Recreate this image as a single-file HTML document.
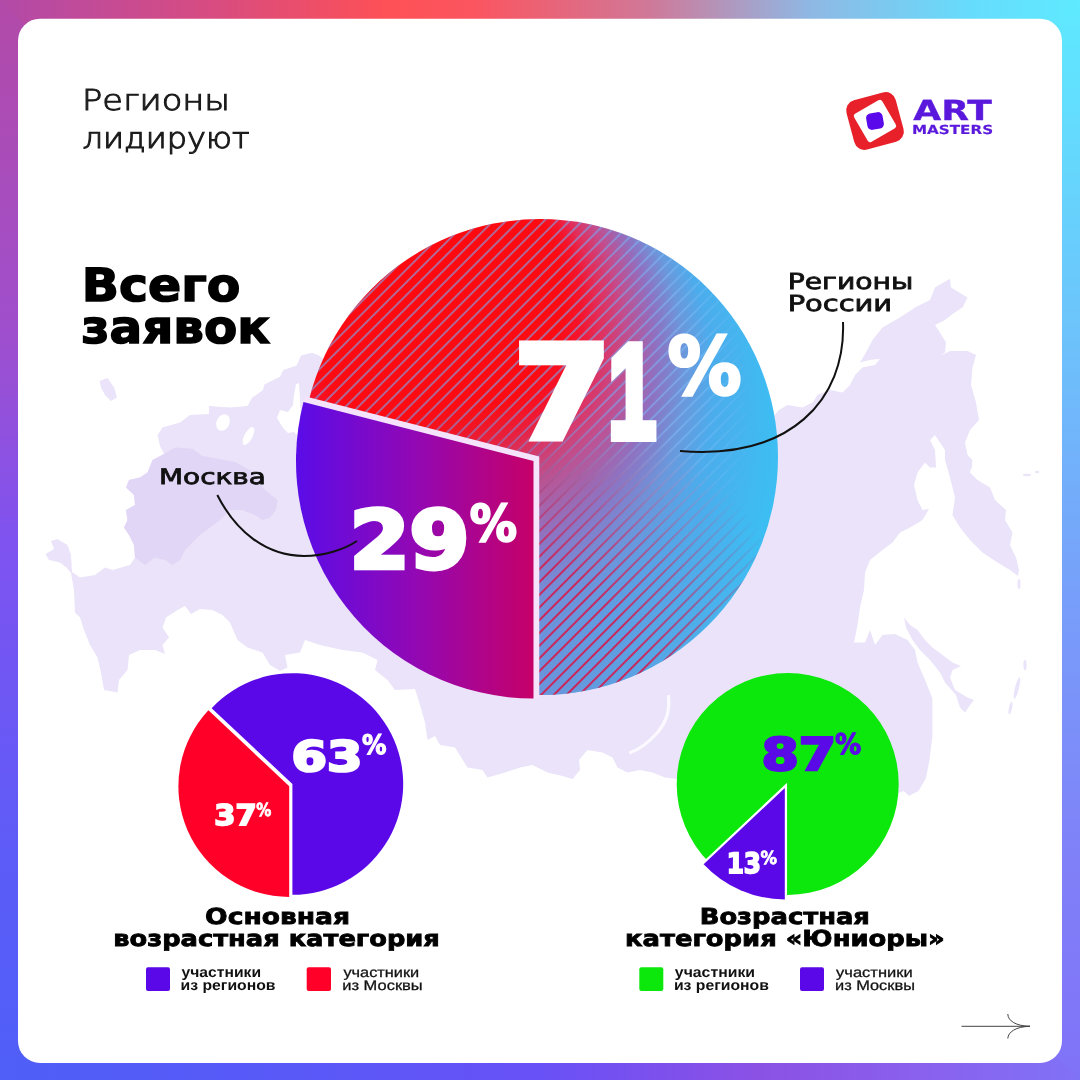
<!DOCTYPE html>
<html lang="ru"><head><meta charset="utf-8"><title>Регионы лидируют</title>
<style>html,body{margin:0;padding:0;background:#fff;}body{width:1080px;height:1080px;overflow:hidden;}svg{display:block;}</style>
</head><body>
<svg width="1080" height="1080" viewBox="0 0 1080 1080">

<defs>
<linearGradient id="fT" x1="0" x2="1" y1="0" y2="0">
 <stop offset="0" stop-color="#b24aa8"/><stop offset="0.2" stop-color="#d84c80"/><stop offset="0.36" stop-color="#fe5056"/><stop offset="0.44" stop-color="#fb5560"/>
 <stop offset="0.6" stop-color="#d07898"/><stop offset="0.75" stop-color="#8fb8e4"/><stop offset="0.9" stop-color="#66dcfc"/><stop offset="1" stop-color="#5eeaff"/>
</linearGradient>
<linearGradient id="fB" x1="0" x2="1" y1="0" y2="0">
 <stop offset="0" stop-color="#4f5ff8"/><stop offset="0.3" stop-color="#5a58f8"/><stop offset="0.5" stop-color="#6851f7"/><stop offset="0.62" stop-color="#7e50ec"/><stop offset="0.7" stop-color="#8b51e5"/>
 <stop offset="0.85" stop-color="#8a60ee"/><stop offset="1" stop-color="#8072f8"/>
</linearGradient>
<linearGradient id="fL" x1="0" x2="0" y1="0" y2="1">
 <stop offset="0" stop-color="#b24aa8"/><stop offset="0.3" stop-color="#a04fcc"/><stop offset="0.5" stop-color="#7f53f0"/><stop offset="0.8" stop-color="#5c5cf8"/><stop offset="1" stop-color="#4f5ff8"/>
</linearGradient>
<linearGradient id="fR" x1="0" x2="0" y1="0" y2="1">
 <stop offset="0" stop-color="#5eeaff"/><stop offset="0.3" stop-color="#6cc4fb"/><stop offset="0.55" stop-color="#779ffa"/><stop offset="0.8" stop-color="#8080f8"/><stop offset="1" stop-color="#8072f8"/>
</linearGradient>
</defs>
<rect x="0" y="0" width="40" height="1080" fill="url(#fL)"/>
<rect x="1040" y="0" width="40" height="1080" fill="url(#fR)"/>
<path d="M0,0 H1080 L1040,40 H40Z" fill="url(#fT)"/>
<path d="M0,1080 H1080 L1040,1040 H40Z" fill="url(#fB)"/>
<rect x="18" y="18.7" width="1044" height="1044.3" rx="22" fill="#fff"/>

<g>
<path d="M325.0,360.0 L319.0,355.6 L312.0,352.8 L301.0,355.6 L296.7,365.6 L283.3,370.0 L280.0,376.7 L264.4,384.4 L263.0,390.0 L252.0,397.8 L247.5,406.0 L230.0,407.5 L209.0,406.0 L209.0,414.0 L190.0,415.0 L180.0,422.5 L162.5,427.5 L157.5,435.0 L160.0,446.0 L164.0,454.0 L152.5,460.0 L147.5,472.5 L140.0,477.5 L129.0,480.0 L126.0,487.5 L134.0,495.0 L135.0,505.0 L126.0,510.0 L127.5,520.0 L124.0,527.5 L129.0,535.0 L134.0,545.0 L135.0,557.5 L130.0,565.0 L112.5,570.0 L105.0,567.5 L95.0,575.0 L80.0,577.5 L72.0,572.0 L71.0,555.0 L67.5,545.0 L57.5,539.0 L51.0,541.0 L54.0,549.0 L45.5,554.0 L49.0,560.0 L60.0,562.5 L67.0,568.0 L71.0,573.0 L74.0,590.0 L75.0,612.5 L80.0,617.5 L84.0,630.0 L90.0,645.0 L97.5,657.5 L101.0,672.5 L104.0,690.0 L117.5,692.5 L119.0,680.0 L127.5,670.0 L129.0,655.0 L140.0,650.0 L155.0,650.0 L165.0,654.0 L162.5,645.0 L169.0,637.5 L162.5,627.5 L166.0,617.5 L177.5,610.0 L185.0,606.0 L191.0,614.0 L200.0,609.0 L212.5,610.0 L222.5,615.0 L230.0,622.5 L237.5,640.0 L247.5,647.5 L262.5,652.5 L270.0,665.0 L280.0,671.0 L287.5,667.5 L285.0,655.0 L300.0,652.5 L305.0,640.0 L320.0,645.0 L342.5,650.0 L362.5,652.5 L377.5,660.0 L375.0,670.0 L387.5,680.0 L395.0,690.0 L415.0,689.0 L420.0,705.0 L425.0,722.5 L427.5,740.0 L435.0,736.0 L440.0,745.0 L455.0,747.5 L467.5,767.5 L482.5,770.0 L487.5,777.5 L505.0,772.5 L520.0,767.5 L532.5,765.0 L547.5,772.5 L562.5,776.0 L572.5,779.0 L580.0,770.0 L579.0,760.0 L587.5,750.0 L602.5,752.5 L612.5,757.5 L617.5,767.5 L627.5,772.5 L640.0,770.0 L652.5,772.5 L665.0,777.5 L677.5,779.0 L720.0,800.0 L800.0,820.0 L880.0,800.0 L903.7,791.0 L909.0,795.7 L918.5,791.0 L926.0,778.0 L929.6,759.6 L932.4,735.5 L932.4,698.5 L925.0,680.0 L917.5,662.5 L915.0,650.0 L907.5,640.0 L895.0,634.0 L882.5,635.0 L875.0,645.0 L870.0,630.0 L865.0,642.5 L854.0,642.5 L857.5,625.0 L860.0,607.5 L864.0,590.0 L865.0,572.5 L870.0,560.0 L882.5,550.0 L892.5,542.5 L900.0,532.5 L910.0,527.5 L922.5,520.0 L929.0,509.0 L922.5,510.0 L917.5,500.0 L914.0,485.0 L917.5,472.5 L925.0,462.5 L930.0,467.5 L936.0,467.5 L935.0,450.0 L930.0,440.0 L935.0,435.0 L945.0,450.0 L945.0,460.0 L950.0,477.5 L955.0,497.5 L952.5,515.0 L960.0,527.5 L970.0,540.0 L982.5,552.5 L997.5,562.5 L1010.0,570.0 L1018.0,576.0 L1019.0,570.0 L1016.0,557.5 L1010.0,545.0 L1012.5,532.5 L1005.0,520.0 L1006.0,510.0 L995.0,500.0 L990.0,487.5 L977.5,480.0 L970.0,472.5 L972.5,460.0 L967.5,455.0 L965.0,442.5 L970.0,430.0 L979.0,420.0 L976.0,402.5 L971.0,385.0 L972.5,367.5 L976.0,355.0 L967.5,351.0 L950.0,351.0 L940.0,356.0 L945.0,352.5 L946.0,342.5 L940.0,332.5 L935.0,325.0 L945.0,320.0 L952.5,314.0 L962.5,307.5 L967.5,297.5 L951.0,287.5 L950.0,278.8 L935.0,287.5 L930.0,300.0 L915.0,307.5 L900.0,317.5 L882.5,327.5 L872.5,340.0 L866.0,352.5 L860.0,362.5 L870.0,360.0 L880.0,358.8 L875.0,365.0 L862.5,367.5 L855.0,375.0 L850.0,385.0 L842.5,392.5 L830.0,390.0 L817.5,395.0 L812.5,402.5 L802.5,407.5 L787.5,405.0 L779.0,410.0 L770.0,420.0 L700.0,380.0 L540.0,340.0 L400.0,340.0Z" fill="#eae3f9"/>
<path d="M99.5,381.0 L107.5,378.0 L114.0,387.5 L117.0,397.5 L111.0,401.0 L105.0,395.0 L101.0,387.5Z" fill="#eae3f9"/>
<path d="M904.0,617.5 L910.0,625.0 L917.5,630.0 L925.0,640.0 L932.5,647.5 L942.5,655.0 L952.5,662.5 L961.0,666.0 L952.5,670.0 L950.0,677.5 L955.0,690.0 L967.5,697.5 L974.0,700.0 L970.0,705.0 L965.0,712.5 L960.0,707.5 L956.0,695.0 L945.0,682.5 L940.0,672.5 L930.0,660.0 L920.0,650.0 L912.5,640.0 L906.0,627.5Z" fill="#eae3f9"/>
<path d="M164.0,454.0 L175.0,447.5 L192.5,448.8 L202.5,456.0 L217.5,458.8 L235.0,462.0 L250.0,470.0 L258.0,480.0 L265.0,490.0 L277.5,500.0 L276.0,510.0 L270.0,517.5 L262.5,520.0 L255.0,515.0 L242.5,510.0 L230.0,510.0 L220.0,520.0 L210.0,527.5 L200.0,535.0 L192.5,542.5 L185.0,550.0 L180.0,560.0 L172.5,565.0 L165.0,560.0 L155.0,557.5 L145.0,565.0 L135.0,557.5 L134.0,545.0 L129.0,535.0 L124.0,527.5 L127.5,520.0 L126.0,510.0 L135.0,505.0 L134.0,495.0 L126.0,487.5 L129.0,480.0 L140.0,477.5 L147.5,472.5 L152.5,460.0Z" fill="#e1d6f5"/>
<ellipse cx="223" cy="422.5" rx="6.5" ry="8.5" fill="#fff" transform="rotate(25 223 422.5)"/>
<ellipse cx="248.5" cy="436" rx="4" ry="10" fill="#fff" transform="rotate(28 248.5 436)"/>
<path d="M296,384 L299,383 L300,400 L301,420 L299,437 L294,432 L288,433 L283,428 L277,418 L280,410 L288,412 L293,405 L294,395Z" fill="#fff"/>
<path d="M668.5,696.5 C670,712 666,722 657.5,732.5 C650,741 640,749 630.5,752.5" fill="none" stroke="#fbf8ff" stroke-width="3.4" stroke-linecap="round"/>
<g fill="#eae3f9">
<ellipse cx="1025" cy="665" rx="1.6" ry="5"/><ellipse cx="1017" cy="688" rx="2" ry="11" transform="rotate(14 1017 688)"/>
<ellipse cx="1010.5" cy="708" rx="1.6" ry="6.5" transform="rotate(12 1010.5 708)"/>
<ellipse cx="1019" cy="584" rx="1.5" ry="5"/>
<ellipse cx="971" cy="465" rx="1.2" ry="4"/><ellipse cx="1027" cy="475" rx="4" ry="1.2"/><ellipse cx="1037" cy="472" rx="2.5" ry="1"/>
</g>
</g>

<defs>
<radialGradient id="gA" gradientUnits="userSpaceOnUse" cx="417.3" cy="441.6" r="391" fx="435.9" fy="220.9">
 <stop offset="0" stop-color="#fd0a10"/><stop offset="0.34" stop-color="#fc0b12"/><stop offset="0.39" stop-color="#f5142c"/><stop offset="0.435" stop-color="#e42c58"/><stop offset="0.505" stop-color="#c44c8c"/>
 <stop offset="0.59" stop-color="#9070c0"/><stop offset="0.67" stop-color="#6a98dc"/><stop offset="0.745" stop-color="#4cacec"/><stop offset="0.9" stop-color="#3ebcf2"/><stop offset="1" stop-color="#38c4f5"/>
</radialGradient>
<radialGradient id="gL1" gradientUnits="userSpaceOnUse" cx="417.3" cy="441.6" r="391" fx="435.9" fy="220.9">
 <stop offset="0" stop-color="#80a8f0" stop-opacity="0.62"/><stop offset="0.5" stop-color="#78a8f0" stop-opacity="0.62"/><stop offset="0.66" stop-color="#80bcf8" stop-opacity="0.55"/><stop offset="0.76" stop-color="#84c4fa" stop-opacity="0.3"/><stop offset="0.86" stop-color="#84c4fa" stop-opacity="0"/>
</radialGradient>
<radialGradient id="gL2" gradientUnits="userSpaceOnUse" cx="480" cy="720" r="340">
 <stop offset="0" stop-color="#d41c4c"/><stop offset="0.5" stop-color="#cc2458"/><stop offset="0.7" stop-color="#c02c64" stop-opacity="0.65"/><stop offset="0.85" stop-color="#b83870" stop-opacity="0.3"/><stop offset="1" stop-color="#b04080" stop-opacity="0"/>
</radialGradient>
<radialGradient id="gO" gradientUnits="userSpaceOnUse" cx="500" cy="700" r="300">
 <stop offset="0" stop-color="#7888d4" stop-opacity="0.85"/><stop offset="1" stop-color="#7888d4" stop-opacity="0"/>
</radialGradient>
<pattern id="stripes" patternUnits="userSpaceOnUse" width="9" height="9" patternTransform="rotate(-45)">
 <rect x="0" y="0" width="9" height="1.9" fill="#fff"/>
</pattern>
<mask id="mS"><rect x="280" y="200" width="520" height="520" fill="url(#stripes)"/></mask>
<linearGradient id="gB" gradientUnits="userSpaceOnUse" x1="296" y1="0" x2="534" y2="0">
 <stop offset="0" stop-color="#5a0ce8"/><stop offset="0.5" stop-color="#9208b4"/><stop offset="1" stop-color="#c60068"/>
</linearGradient>
<clipPath id="cA"><circle cx="540" cy="457" r="238"/></clipPath>
</defs>
<circle cx="540" cy="457" r="238" fill="url(#gA)"/>
<circle cx="540" cy="457" r="238" fill="url(#gO)"/>
<g clip-path="url(#cA)"><g mask="url(#mS)"><rect x="280" y="200" width="520" height="520" fill="url(#gL1)"/><rect x="280" y="200" width="520" height="520" fill="url(#gL2)"/></g></g>
<path d="M533.50,698.50 L533.50,461.00 L303.46,401.94" fill="none" stroke="#f4e3fb" stroke-width="11.5" stroke-linejoin="miter" stroke-linecap="butt"/>
<path d="M533.50,461.00 L533.50,698.50 A237.5,237.5 0 0 1 303.46,401.94Z" fill="url(#gB)"/>


<path d="M292.40,784.00 L211.63,708.15 A110.8,110.8 0 1 1 292.40,894.80Z" fill="#5a08e8"/>
<path d="M289.20,786.20 L289.20,897.00 A110.8,110.8 0 0 1 208.43,710.35Z" fill="#ff0028" stroke="#fff" stroke-width="4" paint-order="stroke"/>


<circle cx="787.7" cy="784" r="111" fill="#0ce80c"/>
<path d="M784.80,788.00 L784.80,899.40 A111.4,111.4 0 0 1 703.59,864.26Z" fill="#5a08e8" stroke="#fff" stroke-width="4.5" paint-order="stroke"/>


<path d="M217.3,495 C235,530 265,556 304,556 C325,556 345,549 357,541" fill="none" stroke="#111" stroke-width="2"/>
<path d="M843,322 C846,400 790,460 680,451" fill="none" stroke="#111" stroke-width="2"/>
<g fill="none" stroke="#444" stroke-width="1">
<path d="M961.5,1026.3 H1030"/>
<path d="M1007.8,1014 C1008,1021 1016,1026 1030,1026.3 C1016,1026.6 1008,1032 1007.8,1038.5"/>
</g>


<rect x="146" y="967.3" width="24" height="23.7" rx="2" fill="#5a08e8"/>
<rect x="306.7" y="967.3" width="24.3" height="23.7" rx="2" fill="#ff0028"/>
<rect x="639.3" y="967.3" width="24" height="23.7" rx="2" fill="#0ce80c"/>
<rect x="800" y="967.3" width="24" height="23.7" rx="2" fill="#5a08e8"/>


<g transform="translate(875 121)">
<rect x="-25.5" y="-25.5" width="51" height="51" rx="10.5" fill="#e8202a" transform="rotate(-15)"/>
<rect x="-16.2" y="-16.2" width="32.4" height="32.4" rx="3" fill="#fff" transform="rotate(-30)"/>
<rect x="-8.3" y="-8.3" width="16.6" height="16.6" rx="4.5" fill="#5a0aea" transform="rotate(-10)"/>
</g>

<g style="white-space:pre" text-rendering="geometricPrecision">
<text transform="translate(81.90 110.45) scale(1.1707 1)" font-family="'DejaVu Sans', 'Liberation Sans', sans-serif" font-weight="200" font-size="28.77" fill="#1b1b1b" stroke="#1b1b1b" stroke-width="1.01" stroke-linejoin="miter">Регионы</text>
<text transform="translate(82.56 148.45) scale(1.1118 1)" font-family="'DejaVu Sans', 'Liberation Sans', sans-serif" font-weight="200" font-size="28.77" fill="#1b1b1b" stroke="#1b1b1b" stroke-width="1.04" stroke-linejoin="miter">лидируют</text>
<text transform="translate(81.68 301.05) scale(1.0726 1)" font-family="'DejaVu Sans', 'Liberation Sans', sans-serif" font-weight="700" font-size="45.62" fill="#000" stroke="#000" stroke-width="1.45" stroke-linejoin="miter">Всего</text>
<text transform="translate(81.33 342.55) scale(1.0618 1)" font-family="'DejaVu Sans', 'Liberation Sans', sans-serif" font-weight="700" font-size="45.62" fill="#000" stroke="#000" stroke-width="1.46" stroke-linejoin="miter">заявок</text>
<text><tspan x="513.44" y="438.40" textLength="97.67" lengthAdjust="spacingAndGlyphs" font-family="'DejaVu Sans', 'Liberation Sans', sans-serif" font-weight="700" font-size="128.90" fill="#fff" stroke="#fff" stroke-width="7.00" stroke-linejoin="miter">7</tspan><tspan x="608.01" y="437.90" textLength="48.25" lengthAdjust="spacingAndGlyphs" font-family="'Liberation Sans', 'Liberation Sans', sans-serif" font-weight="700" font-size="134.93" fill="#fff" stroke="#fff" stroke-width="8.00" stroke-linejoin="miter">1</tspan><tspan x="667.54" y="393.50" textLength="74.02" lengthAdjust="spacingAndGlyphs" font-family="'DejaVu Sans', 'Liberation Sans', sans-serif" font-weight="700" font-size="79.37" fill="#fff" stroke="#fff" stroke-width="3.00" stroke-linejoin="miter">%</tspan></text>
<text><tspan x="349.67" y="568.35" textLength="119.66" lengthAdjust="spacingAndGlyphs" font-family="'DejaVu Sans', 'Liberation Sans', sans-serif" font-weight="700" font-size="80.14" fill="#fff" stroke="#fff" stroke-width="4.50" stroke-linejoin="miter">29</tspan><tspan x="469.63" y="540.50" textLength="47.28" lengthAdjust="spacingAndGlyphs" font-family="'DejaVu Sans', 'Liberation Sans', sans-serif" font-weight="700" font-size="50.45" fill="#fff" stroke="#fff" stroke-width="2.00" stroke-linejoin="miter">%</tspan></text>
<text><tspan x="291.62" y="771.35" textLength="70.92" lengthAdjust="spacingAndGlyphs" font-family="'DejaVu Sans', 'Liberation Sans', sans-serif" font-weight="700" font-size="41.78" fill="#fff" stroke="#fff" stroke-width="2.50" stroke-linejoin="miter">63</tspan><tspan x="361.99" y="754.20" textLength="24.50" lengthAdjust="spacingAndGlyphs" font-family="'DejaVu Sans', 'Liberation Sans', sans-serif" font-weight="700" font-size="26.91" fill="#fff" stroke="#fff" stroke-width="1.20" stroke-linejoin="miter">%</tspan></text>
<text><tspan x="214.27" y="825.10" textLength="42.31" lengthAdjust="spacingAndGlyphs" font-family="'DejaVu Sans', 'Liberation Sans', sans-serif" font-weight="700" font-size="28.49" fill="#fff" stroke="#fff" stroke-width="1.80" stroke-linejoin="miter">37</tspan><tspan x="256.20" y="815.90" textLength="15.08" lengthAdjust="spacingAndGlyphs" font-family="'DejaVu Sans', 'Liberation Sans', sans-serif" font-weight="700" font-size="18.03" fill="#fff" stroke="#fff" stroke-width="0.80" stroke-linejoin="miter">%</tspan></text>
<text><tspan x="761.53" y="770.35" textLength="74.72" lengthAdjust="spacingAndGlyphs" font-family="'DejaVu Sans', 'Liberation Sans', sans-serif" font-weight="700" font-size="44.79" fill="#5a0ae6" stroke="#5a0ae6" stroke-width="2.50" stroke-linejoin="miter">87</tspan><tspan x="835.03" y="754.20" textLength="26.21" lengthAdjust="spacingAndGlyphs" font-family="'DejaVu Sans', 'Liberation Sans', sans-serif" font-weight="700" font-size="28.52" fill="#5a0ae6" stroke="#5a0ae6" stroke-width="1.20" stroke-linejoin="miter">%</tspan></text>
<text><tspan x="726.70" y="872.70" textLength="34.33" lengthAdjust="spacingAndGlyphs" font-family="'DejaVu Sans', 'Liberation Sans', sans-serif" font-weight="700" font-size="27.95" fill="#fff" stroke="#fff" stroke-width="1.80" stroke-linejoin="miter">13</tspan><tspan x="760.45" y="864.00" textLength="16.47" lengthAdjust="spacingAndGlyphs" font-family="'DejaVu Sans', 'Liberation Sans', sans-serif" font-weight="700" font-size="18.03" fill="#fff" stroke="#fff" stroke-width="0.80" stroke-linejoin="miter">%</tspan></text>
<text transform="translate(159.05 484.05) scale(1.3049 1)" font-family="'DejaVu Sans', 'Liberation Sans', sans-serif" font-weight="400" font-size="21.37" fill="#111" stroke="#111" stroke-width="0.78" stroke-linejoin="miter">Москва</text>
<text transform="translate(787.72 289.05) scale(1.2805 1)" font-family="'DejaVu Sans', 'Liberation Sans', sans-serif" font-weight="400" font-size="22.05" fill="#111" stroke="#111" stroke-width="0.79" stroke-linejoin="miter">Регионы</text>
<text transform="translate(787.65 310.85) scale(1.3113 1)" font-family="'DejaVu Sans', 'Liberation Sans', sans-serif" font-weight="400" font-size="22.05" fill="#111" stroke="#111" stroke-width="0.78" stroke-linejoin="miter">России</text>
<text transform="translate(205.12 923.85) scale(1.2029 1)" font-family="'DejaVu Sans', 'Liberation Sans', sans-serif" font-weight="700" font-size="22.05" fill="#000" stroke="#000" stroke-width="0.82" stroke-linejoin="miter">Основная</text>
<text transform="translate(113.31 945.55) scale(1.1663 1)" font-family="'DejaVu Sans', 'Liberation Sans', sans-serif" font-weight="700" font-size="22.05" fill="#000" stroke="#000" stroke-width="0.83" stroke-linejoin="miter">возрастная категория</text>
<text transform="translate(699.74 923.85) scale(1.1691 1)" font-family="'DejaVu Sans', 'Liberation Sans', sans-serif" font-weight="700" font-size="22.05" fill="#000" stroke="#000" stroke-width="0.83" stroke-linejoin="miter">Возрастная</text>
<text transform="translate(625.00 945.55) scale(1.1704 1)" font-family="'DejaVu Sans', 'Liberation Sans', sans-serif" font-weight="700" font-size="22.05" fill="#000" stroke="#000" stroke-width="0.83" stroke-linejoin="miter">категория «Юниоры»</text>
<text transform="translate(181.54 977.30) scale(1.0793 1)" font-family="'Liberation Sans', 'Liberation Sans', sans-serif" font-weight="700" font-size="14.53" fill="#111">участники</text>
<text transform="translate(180.60 990.00) scale(1.0848 1)" font-family="'Liberation Sans', 'Liberation Sans', sans-serif" font-weight="700" font-size="14.53" fill="#111">из регионов</text>
<text transform="translate(343.40 977.15) scale(1.1707 1)" font-family="'Liberation Sans', 'Liberation Sans', sans-serif" font-weight="400" font-size="13.96" fill="#111" stroke="#111" stroke-width="0.28" stroke-linejoin="miter">участники</text>
<text transform="translate(342.30 989.85) scale(1.1793 1)" font-family="'Liberation Sans', 'Liberation Sans', sans-serif" font-weight="400" font-size="13.96" fill="#111" stroke="#111" stroke-width="0.28" stroke-linejoin="miter">из Москвы</text>
<text transform="translate(674.84 977.30) scale(1.0890 1)" font-family="'Liberation Sans', 'Liberation Sans', sans-serif" font-weight="700" font-size="14.53" fill="#111">участники</text>
<text transform="translate(673.90 990.00) scale(1.0848 1)" font-family="'Liberation Sans', 'Liberation Sans', sans-serif" font-weight="700" font-size="14.53" fill="#111">из регионов</text>
<text transform="translate(836.10 977.15) scale(1.1817 1)" font-family="'Liberation Sans', 'Liberation Sans', sans-serif" font-weight="400" font-size="13.96" fill="#111" stroke="#111" stroke-width="0.28" stroke-linejoin="miter">участники</text>
<text transform="translate(835.00 989.85) scale(1.1732 1)" font-family="'Liberation Sans', 'Liberation Sans', sans-serif" font-weight="400" font-size="13.96" fill="#111" stroke="#111" stroke-width="0.28" stroke-linejoin="miter">из Москвы</text>
<text transform="translate(913.26 120.40) scale(1.3040 1)" font-family="'DejaVu Sans', 'Liberation Sans', sans-serif" font-weight="700" font-size="27.67" fill="#5a18dc" stroke="#5a18dc" stroke-width="0.35" stroke-linejoin="miter">ART</text>
<text transform="translate(911.98 134.20) scale(1.2165 1)" font-family="'DejaVu Sans', 'Liberation Sans', sans-serif" font-weight="700" font-size="12.47" fill="#5a18dc" stroke="#5a18dc" stroke-width="0.18" stroke-linejoin="miter">MASTERS</text>
</g>
</svg>
</body></html>
